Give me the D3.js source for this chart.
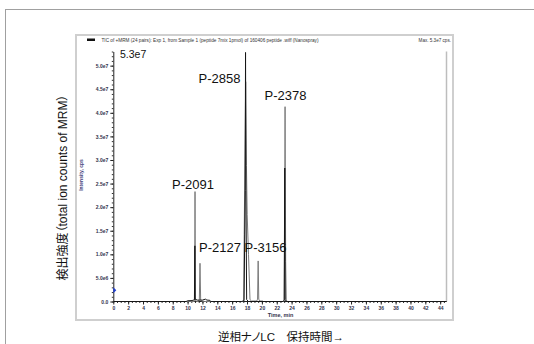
<!DOCTYPE html>
<html>
<head>
<meta charset="utf-8">
<script src="https://cdn.jsdelivr.net/npm/d3@7"></script>
<style>
  html, body { margin: 0; padding: 0; background: #fff; }
  svg { display: block; font-family: "Liberation Sans", Arial, sans-serif; }
  .jp { font-family: "Liberation Sans", "Noto Sans CJK JP", sans-serif; font-feature-settings: "palt"; }
</style>
</head>
<body>
<div id="chart"></div>
<script>
// chromatogram traces (time in min, intensity in cps)
const grayTimes = [0, 10.9, 10.95, 11.0, 11.05, 11.2, 11.45, 11.58, 11.67, 11.76, 11.9, 12.3,
  17.45, 17.55, 17.62, 17.82, 17.92, 18.02, 18.2, 18.4, 18.6, 19.3, 19.42, 19.5, 19.58, 19.7,
  20.1, 20.2, 22.9, 23.02, 23.12, 23.2, 23.28, 23.45, 44.85];
const grayValues = [0, 0, 0.2e6, 2.33e7, 0.3e6, 0, 0, 0.4e6, 0.81e7, 0.3e6, 0.1e6, 0,
  0, 0.2e6, 1.42e7, 4.66e7, 2.88e7, 1.84e7, 1.0e7, 0.4e6, 0.1e6, 0.1e6, 0.5e6, 0.86e7, 0.5e6, 0.1e6,
  0.1e6, 0, 0, 0.3e6, 4.13e7, 0.85e7, 0.3e6, 0, 0];

const blackTimes = [0, 9.8, 10.0, 10.6, 10.92, 10.98, 11.02, 11.3, 12.0, 12.4, 12.6, 13.0, 13.1,
  17.3, 17.6, 17.75, 17.8, 17.85, 17.95, 18.2, 22.85, 23.0, 23.08, 23.14, 23.3, 44.85];
const blackValues = [0, 0, 0.15e6, 0.2e6, 0.35e6, 1.18e7, 0.5e6, 0.3e6, 0.3e6, 0.5e6, 0.3e6, 0.25e6, 0,
  0, 0.2e6, 2.35e7, 5.28e7, 2.35e7, 0.4e6, 0, 0, 0.3e6, 2.83e7, 0.4e6, 0, 0];

// peak annotations
const peakNames = ['P-2091', 'P-2127', 'P-2858', 'P-3156', 'P-2378'];
const peakTimes = [11.0, 11.67, 17.8, 19.5, 23.1];
const peakHeights = [2.33e7, 0.81e7, 5.28e7, 0.86e7, 4.13e7];

// axes
const xMax = 44.85;
const yMax = 5.3e7;
const xTickValues = d3.range(0, 45, 2);
const xTickLabels = xTickValues.map(String);
const yTickValues = d3.range(0, 5.01e7, 5e6);
const yTickLabels = ['0.0', '5.0e6', '1.0e7', '1.5e7', '2.0e7', '2.5e7', '3.0e7', '3.5e7', '4.0e7', '4.5e7', '5.0e7'];

const titleText = 'TIC of +MRM (24 pairs): Exp 1, from Sample 1 (peptide 7mix 1pmol) of 160406 peptide .wiff (Nanospray)';
const maxText = 'Max. 5.3e7 cps.';
const maxLabel = '5.3e7';
const yTitle = 'Intensity, cps';
const xTitle = 'Time, min';
const outerYTitle = '検出強度（total ion counts of MRM）';
const outerXTitle = '逆相ナノLC　保持時間→';

const width = 534, height = 344;
const svg = d3.select('#chart').append('svg')
  .attr('width', width)
  .attr('height', height);

// outer frame and screenshot panel
svg.append('rect')
  .attr('x', 5.5).attr('y', 9.5)
  .attr('width', 560).attr('height', 360)
  .attr('fill', 'none').attr('stroke', '#a0a0a0');

svg.append('rect')
  .attr('x', 76).attr('y', 35)
  .attr('width', 377).attr('height', 285)
  .attr('fill', '#fff').attr('stroke', '#cfcfcf').attr('stroke-width', 2);

const x = d3.scaleLinear().domain([0, xMax]).range([113.3, 446.5]);
const y = d3.scaleLinear().domain([0, yMax]).range([301.5, 51.5]);

// right limit line
svg.append('line')
  .attr('x1', x(xMax)).attr('x2', x(xMax))
  .attr('y1', y(0)).attr('y2', y(yMax))
  .attr('stroke', '#bdbdbd').attr('stroke-width', 1.5);

// minor ticks
svg.append('g')
  .attr('transform', `translate(0, ${y(0)})`)
  .call(d3.axisBottom(x).tickValues(d3.range(0, 44.6, 0.5)).tickSize(1.5).tickFormat(''))
  .call(g => g.select('.domain').remove())
  .selectAll('line').attr('stroke', '#333');

svg.append('g')
  .attr('transform', `translate(${x(0)}, 0)`)
  .call(d3.axisLeft(y).tickValues(d3.range(0, 5.31e7, 1e6)).tickSize(1.5).tickFormat(''))
  .call(g => g.select('.domain').remove())
  .selectAll('line').attr('stroke', '#333');

// major axes
const xAxis = d3.axisBottom(x)
  .tickValues(xTickValues)
  .tickFormat((d, i) => xTickLabels[i])
  .tickSize(3).tickSizeOuter(0).tickPadding(1.5);

const yAxis = d3.axisLeft(y)
  .tickValues(yTickValues)
  .tickFormat((d, i) => yTickLabels[i])
  .tickSize(3).tickSizeOuter(0).tickPadding(2);

const gx = svg.append('g')
  .attr('transform', `translate(0, ${y(0)})`)
  .call(xAxis);
gx.select('.domain').attr('d', `M${x(0)},0H${x(xMax)}`);

const gy = svg.append('g')
  .attr('transform', `translate(${x(0)}, 0)`)
  .call(yAxis);

[gx, gy].forEach(g => {
  g.attr('font-family', '"Liberation Sans", Arial, sans-serif').attr('font-size', 5);
  g.selectAll('text').attr('fill', '#33334d').attr('font-weight', 'bold');
  g.selectAll('line, .domain').attr('stroke', '#222');
});

// traces
const line = d3.line()
  .x(d => x(d[0]))
  .y(d => y(d[1]));

svg.append('path')
  .datum(grayTimes.map((t, i) => [t, grayValues[i]]))
  .attr('d', line)
  .attr('fill', 'none')
  .attr('stroke', '#7a7a7a')
  .attr('stroke-width', 1);

svg.append('path')
  .datum(blackTimes.map((t, i) => [t, blackValues[i]]))
  .attr('d', line)
  .attr('fill', 'none')
  .attr('stroke', '#161616')
  .attr('stroke-width', 1);

// blue marker on the y axis
svg.append('path')
  .attr('d', `M${x(0)},${y(2.4e6) - 3}l3,3l-3,3z`)
  .attr('fill', '#1f3fd0');

// header
svg.append('rect')
  .attr('x', 87).attr('y', 38.5).attr('width', 8).attr('height', 2.5)
  .attr('fill', '#111');

svg.append('text')
  .attr('x', 101.5).attr('y', 41.6)
  .attr('font-size', 4.6)
  .attr('fill', '#333')
  .attr('textLength', 217).attr('lengthAdjust', 'spacingAndGlyphs')
  .text(titleText);

svg.append('text')
  .attr('x', 451).attr('y', 41.6)
  .attr('text-anchor', 'end')
  .attr('font-size', 4.6)
  .attr('fill', '#333')
  .text(maxText);

svg.append('text')
  .attr('x', 120).attr('y', 57.5)
  .attr('font-size', 10.5)
  .attr('fill', '#111')
  .text(maxLabel);

// axis titles in the panel
svg.append('text')
  .attr('transform', `translate(83, 175) rotate(-90)`)
  .attr('text-anchor', 'middle')
  .attr('font-size', 5)
  .attr('font-weight', 'bold')
  .attr('fill', '#3c3c78')
  .text(yTitle);

svg.append('text')
  .attr('x', 280.5).attr('y', 317)
  .attr('text-anchor', 'middle')
  .attr('font-size', 5.5)
  .attr('font-weight', 'bold')
  .attr('fill', '#33334d')
  .text(xTitle);

// peak labels
const labelLayout = [
  { anchor: 'middle', dx: -2, dy: -3 },
  { anchor: 'start', dx: -1, dy: -11 },
  { anchor: 'end', dx: -5, dy: 30.6 },
  { anchor: 'start', dx: -13.7, dy: -9 },
  { anchor: 'middle', dx: 0.6, dy: -6.7 }
];

svg.append('g')
  .selectAll('text')
  .data(peakNames)
  .join('text')
  .attr('x', (d, i) => x(peakTimes[i]) + labelLayout[i].dx)
  .attr('y', (d, i) => y(peakHeights[i]) + labelLayout[i].dy)
  .attr('text-anchor', (d, i) => labelLayout[i].anchor)
  .attr('font-size', 13)
  .attr('fill', '#111')
  .text(d => d);

// outer titles
svg.append('text')
  .attr('class', 'jp')
  .attr('transform', 'translate(66.5, 187.5) rotate(-90)')
  .attr('text-anchor', 'middle')
  .attr('font-size', 12)
  .attr('fill', '#111')
  .text(outerYTitle);

svg.append('text')
  .attr('class', 'jp')
  .attr('x', 281).attr('y', 341)
  .attr('text-anchor', 'middle')
  .attr('font-size', 11.5)
  .attr('fill', '#111')
  .text(outerXTitle);
</script>
</body>
</html>
